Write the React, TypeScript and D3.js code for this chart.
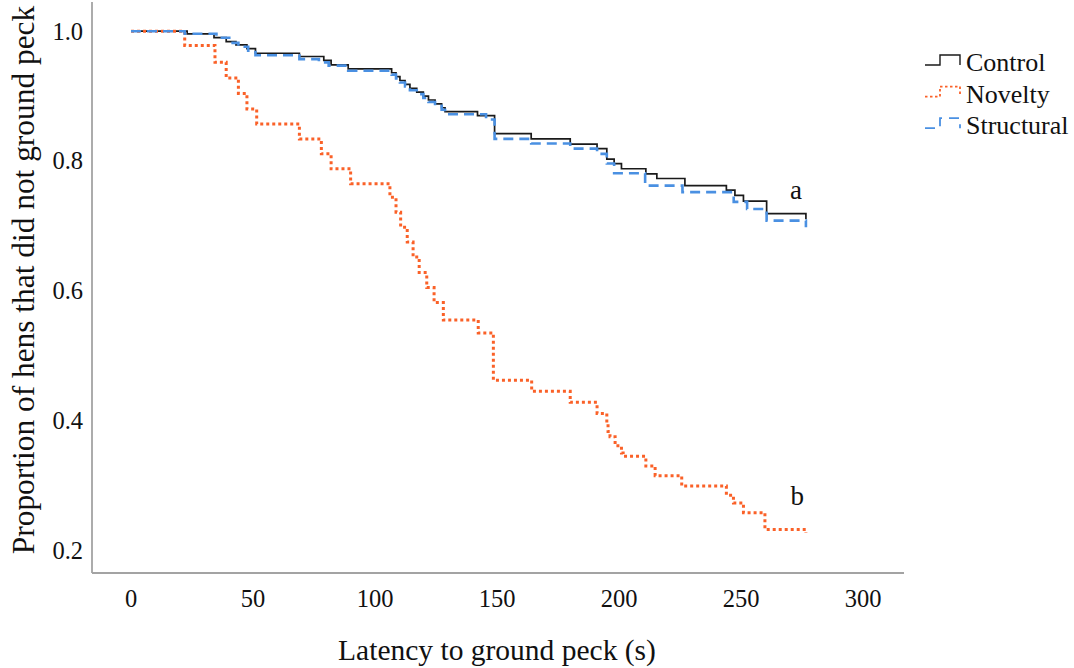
import { curveStepAfter, line, scaleLinear } from 'd3'

// Kaplan-Meier style survival curves: latency to first ground peck per treatment.
// Values (time in s, proportion not yet pecked).

const controlTimes = [0, 23, 34, 39, 43, 47.5, 51, 69, 79, 82, 89, 106.8, 108.6, 110.2, 112.3, 114.3, 117.1, 119.8, 121.9, 124.6, 127.3, 128.7, 142, 149, 164, 180, 191, 195, 198, 201, 211, 215.5, 227, 244, 247.5, 251, 260.5, 276.6]
const controlSurv = [1.0, 0.996, 0.99, 0.984, 0.979, 0.973, 0.966, 0.961, 0.955, 0.948, 0.942, 0.936, 0.93, 0.924, 0.918, 0.912, 0.906, 0.9, 0.894, 0.888, 0.882, 0.876, 0.87, 0.842, 0.834, 0.826, 0.819, 0.803, 0.796, 0.788, 0.78, 0.773, 0.762, 0.755, 0.747, 0.738, 0.719, 0.71]

const noveltyTimes = [0, 22, 34.4, 39, 44, 47.5, 51.5, 69, 78, 82, 90, 106.1, 108.6, 110.5, 113.2, 115.6, 118.1, 121.2, 124.2, 128, 142.3, 148.5, 164.2, 180, 191, 195, 195.5, 196.3, 198.4, 201, 201.7, 211, 214.8, 225.7, 244, 246.9, 251, 259.8, 276.6]
const noveltySurv = [1.0, 0.978, 0.952, 0.928, 0.904, 0.88, 0.857, 0.834, 0.811, 0.788, 0.765, 0.744, 0.721, 0.698, 0.675, 0.652, 0.628, 0.605, 0.582, 0.555, 0.535, 0.462, 0.445, 0.428, 0.411, 0.396, 0.383, 0.375, 0.361, 0.35, 0.345, 0.33, 0.315, 0.299, 0.285, 0.273, 0.258, 0.232, 0.227]

const structuralTimes = [0, 22, 35, 41, 44, 48, 51, 69, 77, 81, 89, 106.8, 108.6, 110.2, 112.3, 114.3, 117.1, 119.8, 121.9, 124.6, 127.3, 128.7, 145.5, 149, 164, 180, 191, 195, 198, 210.7, 226, 247, 252.5, 260.5, 276.6]
const structuralSurv = [1.0, 0.996, 0.99, 0.982, 0.976, 0.97, 0.963, 0.957, 0.952, 0.947, 0.939, 0.933, 0.927, 0.921, 0.915, 0.909, 0.903, 0.897, 0.891, 0.885, 0.879, 0.872, 0.864, 0.834, 0.827, 0.819, 0.811, 0.796, 0.781, 0.762, 0.752, 0.737, 0.726, 0.708, 0.698]

const xTicks = [0, 50, 100, 150, 200, 250, 300]
const yTicks = [0.2, 0.4, 0.6, 0.8, 1.0]

// group letters placed at the end of the curves
const groupLetters = [
  { text: 'a', t: 272.5, p: 0.742 },
  { text: 'b', t: 273, p: 0.27 },
]

const W = 1074
const H = 668
const PLOT = { left: 92, right: 904, top: 2, bottom: 573 }
const FONT = "'Liberation Serif', 'DejaVu Serif', serif"
const AXIS_COLOR = '#a3a3a3'

interface Series {
  name: string
  times: number[]
  surv: number[]
  color: string
  width: number
  dash?: string
}

const series: Series[] = [
  { name: 'Control', times: controlTimes, surv: controlSurv, color: '#1a1a1a', width: 1.7 },
  { name: 'Novelty', times: noveltyTimes, surv: noveltySurv, color: '#fa6128', width: 3, dash: '3 3' },
  { name: 'Structural', times: structuralTimes, surv: structuralSurv, color: '#4a90e2', width: 2.6, dash: '10 6' },
]

const txt = { fontFamily: FONT, fill: '#111' }

export default function App() {
  const x = scaleLinear().domain([-16, 316.8]).range([PLOT.left, PLOT.right])
  const y = scaleLinear().domain([0.165, 1.045]).range([PLOT.bottom, PLOT.top])

  const stepLine = line<[number, number]>()
    .x((d) => x(d[0]))
    .y((d) => y(d[1]))
    .curve(curveStepAfter)

  return (
    <svg
      width={W}
      height={H}
      viewBox={`0 0 ${W} ${H}`}
      style={{ position: 'absolute', left: 0, top: 0, background: '#fff' }}
    >
      {/* axes */}
      <line x1={PLOT.left} x2={PLOT.left} y1={PLOT.top} y2={PLOT.bottom} stroke={AXIS_COLOR} strokeWidth={1.8} />
      <line x1={PLOT.left} x2={PLOT.right} y1={PLOT.bottom} y2={PLOT.bottom} stroke={AXIS_COLOR} strokeWidth={1.8} />

      {yTicks.map((v) => (
        <text key={v} x={83} y={y(v)} dy="0.34em" textAnchor="end" fontSize={24.5} style={txt}>
          {v.toFixed(1)}
        </text>
      ))}
      {xTicks.map((v) => (
        <text key={v} x={x(v)} y={607} textAnchor="middle" fontSize={24.5} style={txt}>
          {v}
        </text>
      ))}

      <text x={497} y={660} textAnchor="middle" fontSize={29.5} style={txt}>
        Latency to ground peck (s)
      </text>
      <text transform="translate(34, 280) rotate(-90)" textAnchor="middle" fontSize={31.4} style={txt}>
        Proportion of hens that did not ground peck
      </text>

      {/* survival curves */}
      {series.map((s) => {
        const pts = s.times.map((t, i) => [t, s.surv[i]] as [number, number])
        return (
          <path
            key={s.name}
            d={stepLine(pts) ?? ''}
            fill="none"
            stroke={s.color}
            strokeWidth={s.width}
            strokeDasharray={s.dash}
          />
        )
      })}

      {groupLetters.map((g) => (
        <text key={g.text} x={x(g.t)} y={y(g.p)} textAnchor="middle" fontSize={27} style={txt}>
          {g.text}
        </text>
      ))}

      {/* legend */}
      <g transform="translate(925, 0)">
        {series.map((s, i) => {
          const low = 65 + i * 31.6
          const high = low - 10
          return (
            <g key={s.name}>
              <path
                d={`M0,${low}H15V${high}H35V${low}`}
                fill="none"
                stroke={s.color}
                strokeWidth={s.dash ? 1.8 : 1.4}
                strokeDasharray={s.dash ? (s.name === 'Novelty' ? '2.5 2.5' : '10 7') : undefined}
              />
              <text x={41} y={low + 6} fontSize={26} style={txt}>
                {s.name}
              </text>
            </g>
          )
        })}
      </g>
    </svg>
  )
}
